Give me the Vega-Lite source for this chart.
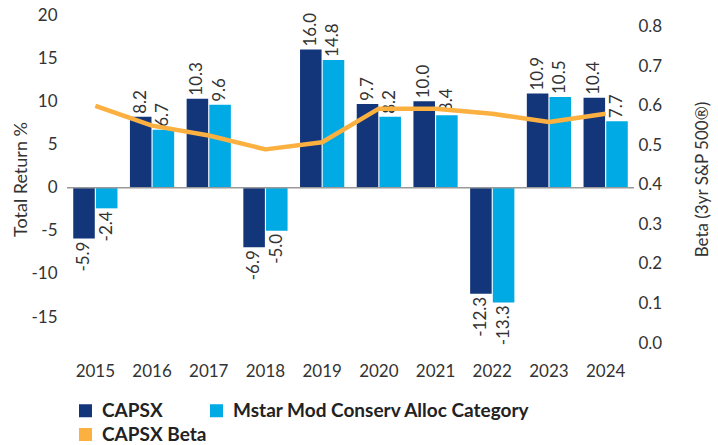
{
  "$schema": "https://vega.github.io/schema/vega-lite/v6.json",
  "width": 567,
  "height": 328,
  "autosize": "none",
  "padding": {"left": 67, "top": 15, "right": 84, "bottom": 102},
  "config": {
    "font": "Lato",
    "locale": {"number": {"decimal": ".", "thousands": ",", "grouping": [3], "currency": ["$", ""], "minus": "-"}},
    "view": {"stroke": null},
    "axis": {
      "labelFont": "Lato", "titleFont": "Lato",
      "labelColor": "#333", "titleColor": "#333",
      "labelFontSize": 17, "titleFontSize": 17, "titleFontWeight": "normal",
      "grid": false, "ticks": false, "domain": false
    }
  },
  "datasets": {
    "returns": [
      {"year": "2015", "series": "CAPSX", "value": -5.9},
      {"year": "2015", "series": "Mstar Mod Conserv Alloc Category", "value": -2.4},
      {"year": "2016", "series": "CAPSX", "value": 8.2},
      {"year": "2016", "series": "Mstar Mod Conserv Alloc Category", "value": 6.7},
      {"year": "2017", "series": "CAPSX", "value": 10.3},
      {"year": "2017", "series": "Mstar Mod Conserv Alloc Category", "value": 9.6},
      {"year": "2018", "series": "CAPSX", "value": -6.9},
      {"year": "2018", "series": "Mstar Mod Conserv Alloc Category", "value": -5.0},
      {"year": "2019", "series": "CAPSX", "value": 16.0},
      {"year": "2019", "series": "Mstar Mod Conserv Alloc Category", "value": 14.8},
      {"year": "2020", "series": "CAPSX", "value": 9.7},
      {"year": "2020", "series": "Mstar Mod Conserv Alloc Category", "value": 8.2},
      {"year": "2021", "series": "CAPSX", "value": 10.0},
      {"year": "2021", "series": "Mstar Mod Conserv Alloc Category", "value": 8.4},
      {"year": "2022", "series": "CAPSX", "value": -12.3},
      {"year": "2022", "series": "Mstar Mod Conserv Alloc Category", "value": -13.3},
      {"year": "2023", "series": "CAPSX", "value": 10.9},
      {"year": "2023", "series": "Mstar Mod Conserv Alloc Category", "value": 10.5},
      {"year": "2024", "series": "CAPSX", "value": 10.4},
      {"year": "2024", "series": "Mstar Mod Conserv Alloc Category", "value": 7.7}
    ],
    "beta": [
      {"year": "2015", "beta": 0.60},
      {"year": "2016", "beta": 0.55},
      {"year": "2017", "beta": 0.525},
      {"year": "2018", "beta": 0.49},
      {"year": "2019", "beta": 0.508},
      {"year": "2020", "beta": 0.593},
      {"year": "2021", "beta": 0.593},
      {"year": "2022", "beta": 0.58},
      {"year": "2023", "beta": 0.559},
      {"year": "2024", "beta": 0.58}
    ]
  },
  "layer": [
    {
      "data": {"name": "returns"},
      "layer": [
        {
          "mark": {"type": "bar"},
          "encoding": {
            "x": {"field": "year", "type": "nominal", "scale": {"paddingInner": 0.22, "paddingOuter": 0.11},
                  "axis": {"title": null, "labelAngle": 0, "labelPadding": 20}},
            "xOffset": {"field": "series", "type": "nominal", "scale": {"paddingInner": 0.05}},
            "y": {"field": "value", "type": "quantitative",
                  "scale": {"domain": [-18, 20], "nice": false, "zero": false},
                  "axis": {"title": "Total Return %", "titleFontSize": 18, "values": [-15, -10, -5, 0, 5, 10, 15, 20], "labelPadding": 10, "titlePadding": 0}},
            "color": {"field": "series", "type": "nominal",
                      "scale": {"domain": ["CAPSX", "Mstar Mod Conserv Alloc Category", "CAPSX Beta"], "range": ["#13367B", "#00AAE5", "#FBB040"]},
                      "legend": {"orient": "none", "direction": "horizontal", "legendX": 9, "legendY": 386, "columns": 2, "title": null,
                                 "values": ["CAPSX", "Mstar Mod Conserv Alloc Category", "CAPSX Beta"],
                                 "symbolType": "square", "symbolSize": 169, "symbolStrokeWidth": 0,
                                 "labelFontSize": 19, "labelFontWeight": "bold", "labelColor": "#222", "labelFont": "Lato",
                                 "labelLimit": 500, "labelOffset": 7, "rowPadding": 4, "columnPadding": 0, "padding": 0}}
          }
        },
        {
          "transform": [{"filter": "datum.value >= 0"}],
          "mark": {"type": "text", "angle": 270, "align": "left", "baseline": "middle", "dx": 3, "fontSize": 17, "color": "#333", "font": "Lato"},
          "encoding": {
            "x": {"field": "year", "type": "nominal"},
            "xOffset": {"field": "series", "type": "nominal"},
            "y": {"field": "value", "type": "quantitative"},
            "text": {"field": "value", "type": "quantitative", "format": ".1f"}
          }
        },
        {
          "transform": [{"filter": "datum.value < 0"}],
          "mark": {"type": "text", "angle": 270, "align": "right", "baseline": "middle", "dx": -3, "fontSize": 17, "color": "#333", "font": "Lato"},
          "encoding": {
            "x": {"field": "year", "type": "nominal"},
            "xOffset": {"field": "series", "type": "nominal"},
            "y": {"field": "value", "type": "quantitative"},
            "text": {"field": "value", "type": "quantitative", "format": ".1f"}
          }
        },
        {
          "data": {"values": [{"z": 0}]},
          "mark": {"type": "rule", "color": "#999", "strokeWidth": 1.5},
          "encoding": {"y": {"field": "z", "type": "quantitative"}}
        }
      ]
    },
    {
      "data": {"name": "beta"},
      "mark": {"type": "line", "strokeWidth": 4.5, "strokeJoin": "round"},
      "encoding": {
        "x": {"field": "year", "type": "nominal"},
        "y": {"field": "beta", "type": "quantitative",
              "scale": {"domain": [0, 0.83], "nice": false},
              "axis": {"orient": "right", "title": "Beta (3yr S&P 500®)", "titleAngle": 270, "format": ".1f",
                       "values": [0, 0.1, 0.2, 0.3, 0.4, 0.5, 0.6, 0.7, 0.8], "labelPadding": 4, "titlePadding": 50}},
        "color": {"datum": "CAPSX Beta", "legend": null}
      }
    }
  ],
  "resolve": {"scale": {"y": "independent"}}
}
